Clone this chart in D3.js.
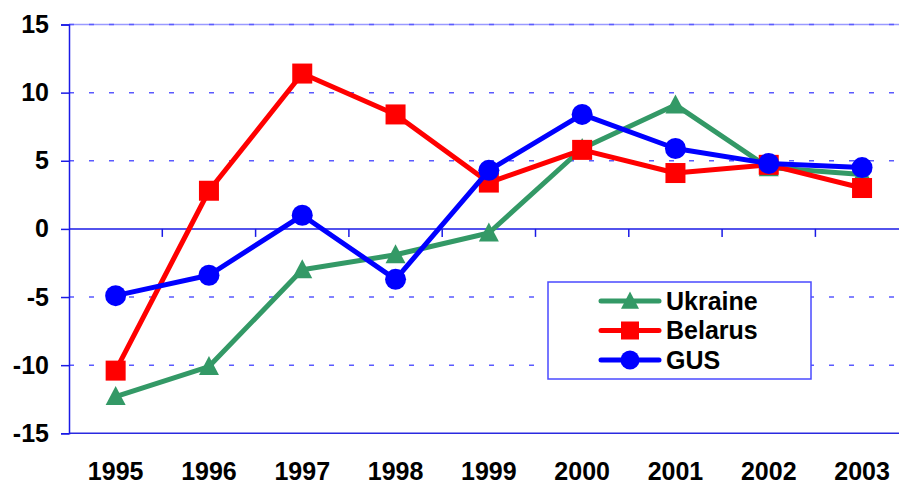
<!DOCTYPE html>
<html>
<head>
<meta charset="utf-8">
<script src="https://cdn.jsdelivr.net/npm/d3@7"></script>
<style>
  html, body { margin: 0; padding: 0; background: #fff; }
  svg { display: block; font-family: Arial, "Liberation Sans", sans-serif; }
</style>
</head>
<body>
<svg id="chart" width="899" height="484"></svg>
<script>
const years = ["1995","1996","1997","1998","1999","2000","2001","2002","2003"];
const ukraine = [-12.3, -10.1, -3.0, -1.9, -0.3, 5.9, 9.1, 4.5, 4.0];
const belarus = [-10.4, 2.8, 11.4, 8.4, 3.4, 5.8, 4.1, 4.7, 3.0];
const gus = [-4.9, -3.4, 1.0, -3.7, 4.3, 8.4, 5.9, 4.8, 4.5];
const yTicks = [-15, -10, -5, 0, 5, 10, 15];
const seriesNames = ["Ukraine", "Belarus", "GUS"];

const series = [
  { name: seriesNames[0], values: ukraine, color: "#339966", marker: "triangle" },
  { name: seriesNames[1], values: belarus, color: "#ff0000", marker: "square" },
  { name: seriesNames[2], values: gus, color: "#0000ff", marker: "circle" }
];

const FS = 25;
const svg = d3.select("#chart");
const x0 = 69, bw = 93.3;
const x = d3.scaleBand().domain(years).range([x0, x0 + bw * years.length]).padding(0);
const y = d3.scaleLinear().domain([-15, 15]).range([433.3, 24.5]);
const cx = d => x(d) + x.bandwidth() / 2;

// gridlines
const gridVals = yTicks.filter(v => v !== 0 && v !== -15);
svg.append("line").attr("x1", x0).attr("x2", 899).attr("y1", y(15)).attr("y2", y(15))
  .attr("stroke", "#9a9aff").attr("stroke-width", 1.5);
svg.selectAll("line.grid").data(gridVals).enter().append("line")
  .attr("class", "grid")
  .attr("x1", x0).attr("x2", 899)
  .attr("y1", d => y(d)).attr("y2", d => y(d))
  .attr("stroke", "#5a5aff").attr("stroke-width", 1.5)
  .attr("stroke-dasharray", "5,15");
svg.append("line").attr("x1", x0).attr("x2", 899).attr("y1", y(-15)).attr("y2", y(-15))
  .attr("stroke", "#2a2ae0").attr("stroke-width", 1.5);

// y axis
const yAxis = d3.axisLeft(y).tickValues(yTicks).tickSize(8).tickPadding(12).tickFormat(d => String(d));
const yg = svg.append("g").attr("transform", `translate(${x0},0)`).call(yAxis);
yg.select(".domain").attr("stroke", "#1a1ae6").attr("stroke-width", 1.5);
yg.selectAll(".tick line").attr("stroke", "#1a1ae6").attr("stroke-width", 1.5);
yg.selectAll(".tick text").attr("font-size", FS).attr("font-weight", "bold").attr("fill", "#000")
  .attr("font-family", "Arial, 'Liberation Sans', sans-serif");

// x axis at zero
const xAxis = d3.axisBottom(x).tickSize(0).tickFormat("");
const xg = svg.append("g").attr("transform", `translate(0,${y(0)})`).call(xAxis);
xg.select(".domain").attr("d", `M${x0},0H899`).attr("stroke", "#1a1ae6").attr("stroke-width", 1.5);
xg.selectAll(".bnd").data(years.slice(1)).enter().append("line")
  .attr("x1", d => x(d)).attr("x2", d => x(d)).attr("y1", 0).attr("y2", 8)
  .attr("stroke", "#1a1ae6").attr("stroke-width", 1.5);

// x labels at bottom
svg.selectAll("text.xl").data(years).enter().append("text")
  .attr("class", "xl")
  .attr("x", d => cx(d)).attr("y", 480)
  .attr("text-anchor", "middle")
  .attr("font-size", FS).attr("font-weight", "bold").attr("fill", "#000")
  .text(d => d);

function drawMarker(g, type, px, py, color, s) {
  if (type === "square") {
    g.append("rect").attr("x", px - s / 2).attr("y", py - s / 2).attr("width", s).attr("height", s).attr("fill", color);
  } else if (type === "circle") {
    g.append("circle").attr("cx", px).attr("cy", py).attr("r", s / 2).attr("fill", color);
  } else {
    const h = s * 0.95;
    g.append("path").attr("d", `M${px},${py - h * 0.55}L${px + s / 2},${py + h * 0.45}L${px - s / 2},${py + h * 0.45}Z`).attr("fill", color);
  }
}

const line = d3.line().x((d, i) => cx(years[i])).y(d => y(d));
series.forEach(s => {
  const g = svg.append("g");
  g.append("path").datum(s.values).attr("d", line)
    .attr("fill", "none").attr("stroke", s.color).attr("stroke-width", 5).attr("stroke-linejoin", "round");
  s.values.forEach((v, i) => drawMarker(g, s.marker, cx(years[i]), y(v), s.color, s.marker === "circle" ? 21 : 20));
});

// legend
const lg = svg.append("g");
lg.append("rect").attr("x", 548).attr("y", 282).attr("width", 263).attr("height", 97)
  .attr("fill", "#fff").attr("stroke", "#4a4aff").attr("stroke-width", 1.5);
series.forEach((s, i) => {
  const ly = 301 + i * 29.5;
  lg.append("line").attr("x1", 601).attr("x2", 659).attr("y1", ly).attr("y2", ly)
    .attr("stroke", s.color).attr("stroke-width", 5).attr("stroke-linecap", "round");
  drawMarker(lg, s.marker, 630, ly, s.color, s.marker === "circle" ? 19 : 18);
  lg.append("text").attr("x", 666).attr("y", ly + 8.5)
    .attr("font-size", FS).attr("font-weight", "bold").attr("fill", "#000").text(s.name);
});
</script>
</body>
</html>
